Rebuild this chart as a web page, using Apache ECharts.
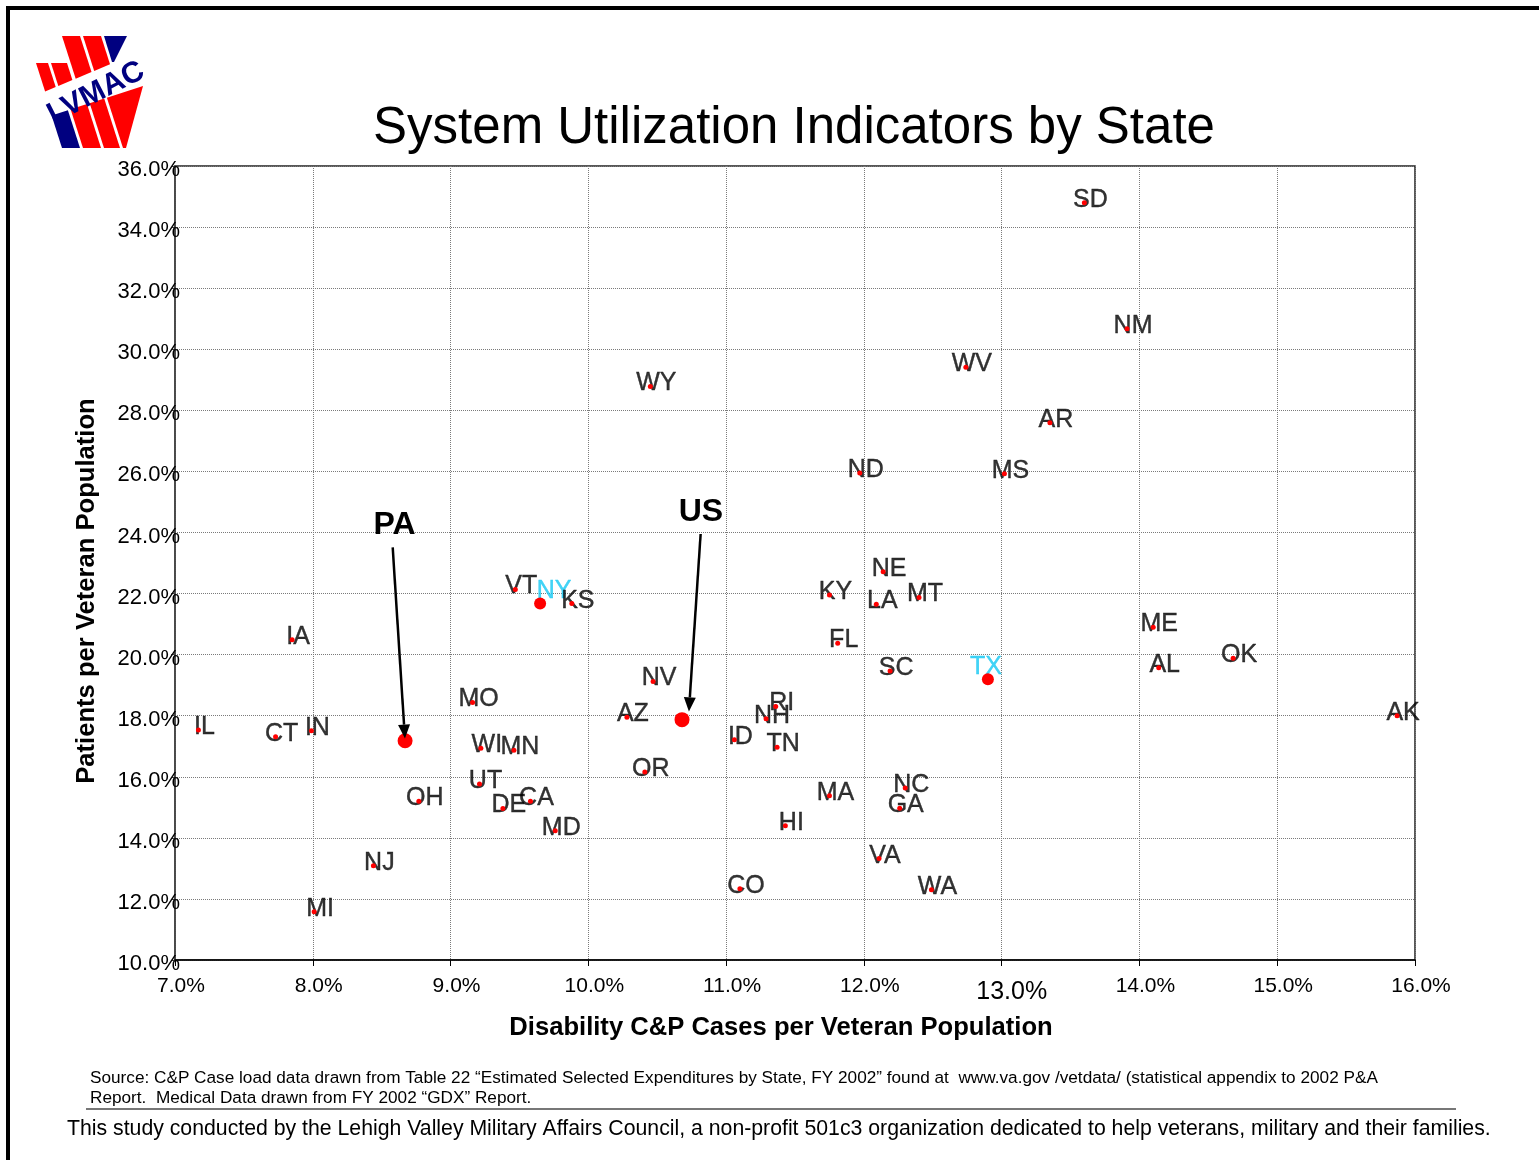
<!DOCTYPE html>
<html>
<head>
<meta charset="utf-8">
<script src="https://cdn.jsdelivr.net/npm/echarts@6/dist/echarts.min.js"></script>
<style>
  html, body { margin: 0; padding: 0; background: #fff; }
  #chart { width: 1539px; height: 1160px; }
</style>
</head>
<body>
<div id="chart"></div>
<script>
// State codes, disability C&P cases per veteran (%), VA patients per veteran (%)
const states = ['IL','CT','IN','IA','MI','NJ','PA','OH','MO','WI','MN','UT','DE','CA','MD','VT','NY','KS','WY','NV',
  'AZ','US','OR','ID','RI','NH','TN','HI','MA','KY','FL','CO','NE','LA','MT','SC','TX','NC','GA','VA',
  'WA','ND','MS','WV','AR','NM','SD','ME','AL','OK','AK'];
const casesPct = [7.17,7.73,7.99,7.85,8.01,8.44,8.67,8.77,9.16,9.22,9.46,9.21,9.38,9.58,9.76,9.47,9.65,9.88,10.45,10.47,
  10.28,10.68,10.41,11.06,11.36,11.29,11.37,11.43,11.75,11.75,11.81,11.10,12.14,12.09,12.40,12.19,12.90,12.30,12.26,12.11,
  12.49,11.97,13.02,12.74,13.35,13.91,13.60,14.10,14.14,14.68,15.87];
const patientsPct = [17.53,17.31,17.51,20.49,11.58,13.09,17.18,15.20,18.43,16.93,16.87,15.76,14.96,15.20,14.23,22.13,21.67,21.67,28.78,19.12,
  17.95,17.87,16.16,17.21,18.30,17.90,16.97,14.40,15.38,21.95,20.37,12.33,22.71,21.65,21.87,19.46,19.19,15.63,14.97,13.32,
  12.30,25.95,25.92,29.41,27.59,30.67,34.80,20.90,19.57,19.88,18.00];

// Axis ranges and tick steps
const xRange = [7, 16], xStep = 1;
const yRange = [10, 36], yStep = 2;

// Points called out with an arrow instead of a label at the marker
const calloutNames = ['PA', 'US'];
const calloutTail  = [[8.58, 23.51], [10.815, 23.95]];
const calloutTip   = [[8.669, 17.25], [10.73, 18.14]];
const calloutText  = [[8.594, 24.23], [10.817, 24.67]];

const FONT = '"Liberation Sans", Arial, Helvetica, sans-serif';

// label styling per state (cyan for the highlighted large states)
const labelColor = { NY: '#14c8f4', TX: '#14c8f4' };
const labelOffset = { NY: [14, -13], TX: [-2, -12] };
const markerSize = { PA: 15, US: 15, NY: 12, TX: 12 };

const labelData = [];
const dotData = [];
states.forEach((s, i) => {
  const v = [casesPct[i], patientsPct[i]];
  dotData.push({ name: s, value: v, symbolSize: markerSize[s] || 5 });
  if (calloutNames.indexOf(s) < 0) {
    const c = labelColor[s] || '#000';
    labelData.push({
      name: s, value: v,
      label: { offset: labelOffset[s] || [6, -3], color: c, textBorderColor: c }
    });
  }
});

const pct = v => v.toFixed(1) + '%';

// LVMAC keystone logo
const RED = '#ff0000', NAVY = '#000080';
const logoShapes = [
  [[36,63],[48,63],[55.7,87],[45.1,91.5]],
  [[51,63],[67,63],[72.4,80],[58.3,85.9]],
  [[62,36],[80,36],[91.5,72],[75.7,78.7]],
  [[83,36],[101,36],[110,64.2],[94.2,70.9]],
  [[70.6,109.3],[87,104.1],[101,148],[83,148]],
  [[89.7,103.3],[104.2,98.6],[120,148],[104,148]],
  [[106.9,97.7],[143,86],[126,148],[123,148]]
];
const logoBlue = [
  [[104,36],[127,36],[114,62],[112,62]],
  [[51.6,115.4],[67.9,110.2],[80,148],[62,148]]
];

const baseGraphic = [
  { type: 'rect', shape: { x: 8, y: 8, width: 1600, height: 1200 }, style: { fill: 'none', stroke: '#000', lineWidth: 4 }, silent: true },
  ...logoShapes.map(p => ({ type: 'polygon', shape: { points: p }, style: { fill: RED } })),
  ...logoBlue.map(p => ({ type: 'polygon', shape: { points: p }, style: { fill: NAVY } })),
  { type: 'text', x: 96, y: 93, rotation: 0.47,
    style: { text: 'LVMAC', font: 'bold 30px ' + FONT, fill: NAVY, align: 'center', verticalAlign: 'middle' } },
  { type: 'text', x: 794, y: 129,
    style: { text: 'System Utilization Indicators by State', font: '51px ' + FONT, fill: '#000', align: 'center', verticalAlign: 'middle' } },
  { type: 'text', x: 87, y: 591, rotation: Math.PI / 2,
    style: { text: 'Patients per Veteran Population', font: 'bold 25.6px ' + FONT, fill: '#000', align: 'center', verticalAlign: 'middle' } },
  { type: 'text', x: 781, y: 1028,
    style: { text: 'Disability C&P Cases per Veteran Population', font: 'bold 25.6px ' + FONT, fill: '#000', align: 'center', verticalAlign: 'middle' } },
  { type: 'text', x: 90, y: 1078,
    style: { text: 'Source: C&P Case load data drawn from Table 22 \u201cEstimated Selected Expenditures by State, FY 2002\u201d found at  www.va.gov /vetdata/ (statistical appendix to 2002 P&A',
      font: '17.2px ' + FONT, fill: '#000', align: 'left', verticalAlign: 'middle' } },
  { type: 'text', x: 90, y: 1098,
    style: { text: 'Report.  Medical Data drawn from FY 2002 \u201cGDX\u201d Report.',
      font: '17.2px ' + FONT, fill: '#000', align: 'left', verticalAlign: 'middle' } },
  { type: 'line', shape: { x1: 86, y1: 1109, x2: 1456, y2: 1109 }, style: { stroke: '#777', lineWidth: 2 } },
  { type: 'text', x: 67, y: 1129,
    style: { text: 'This study conducted by the Lehigh Valley Military Affairs Council, a non-profit 501c3 organization dedicated to help veterans, military and their families.',
      font: '21.25px ' + FONT, fill: '#000', align: 'left', verticalAlign: 'middle' } }
];

const gridLine = { show: true, lineStyle: { color: '#7a7a7a', width: 1, type: [1, 1] } };

const option = {
  animation: false,
  backgroundColor: '#fff',
  grid: { left: 175, right: 124, top: 166, bottom: 200, show: true, borderColor: '#222', borderWidth: 1.5, backgroundColor: 'transparent' },
  xAxis: {
    type: 'value', min: xRange[0], max: xRange[1], interval: xStep,
    axisLine: { show: true, lineStyle: { color: '#000', width: 1.5 } },
    axisTick: { show: true, length: 6, lineStyle: { color: '#000', width: 1 } },
    splitLine: gridLine,
    axisLabel: {
      margin: 16, color: '#000', fontSize: 21, fontFamily: FONT, padding: [0, 0, 0, 12],
      formatter: v => (Math.abs(v - 13) < 1e-9 ? '{big|' + pct(v) + '}' : pct(v)),
      rich: { big: { fontSize: 25, fontFamily: FONT, color: '#000', padding: [4, 0, 0, 8] } }
    }
  },
  yAxis: {
    type: 'value', min: yRange[0], max: yRange[1], interval: yStep,
    axisLine: { show: true, lineStyle: { color: '#444', width: 1.5 } },
    axisTick: { show: true, length: 4, lineStyle: { color: '#444', width: 1 } },
    splitLine: gridLine,
    axisLabel: {
      margin: -5, color: '#000', fontFamily: FONT,
      formatter: v => '{t|' + pct(v) + '}',
      rich: { t: { fontSize: 22, fontFamily: FONT, color: '#000', padding: [8, 0, 0, 0] } }
    }
  },
  graphic: baseGraphic,
  series: [
    {
      name: 'labels', type: 'scatter', z: 2, symbolSize: 1, silent: true,
      itemStyle: { color: 'rgba(0,0,0,0)' },
      label: { show: true, position: 'inside', formatter: '{b}', fontSize: 25, fontFamily: FONT, color: '#000',
        textBorderColor: '#000', textBorderWidth: 0.4 },
      data: labelData
    },
    {
      name: 'states', type: 'scatter', z: 3, silent: true,
      itemStyle: { color: '#ff0000', opacity: 1 },
      data: dotData
    }
  ]
};

const chart = echarts.init(document.getElementById('chart'), null, { renderer: 'canvas' });
chart.setOption(option);

// Callout arrows, placed through the chart's own coordinate conversion
const extra = [];
calloutNames.forEach((n, i) => {
  const tail = chart.convertToPixel({ gridIndex: 0 }, calloutTail[i]);
  const tip = chart.convertToPixel({ gridIndex: 0 }, calloutTip[i]);
  const txt = chart.convertToPixel({ gridIndex: 0 }, calloutText[i]);
  const dx = tip[0] - tail[0], dy = tip[1] - tail[1];
  const len = Math.hypot(dx, dy), ux = dx / len, uy = dy / len;
  const headL = 14, headW = 12;
  const base = [tip[0] - ux * headL, tip[1] - uy * headL];
  extra.push({ type: 'line', z: 20, shape: { x1: tail[0], y1: tail[1], x2: base[0], y2: base[1] }, style: { stroke: '#000', lineWidth: 2.5 } });
  extra.push({ type: 'polygon', z: 20, shape: { points: [tip,
    [base[0] - uy * headW / 2, base[1] + ux * headW / 2],
    [base[0] + uy * headW / 2, base[1] - ux * headW / 2]] }, style: { fill: '#000' } });
  extra.push({ type: 'text', z: 20, x: txt[0], y: txt[1],
    style: { text: n, font: 'bold 32px ' + FONT, fill: '#000', align: 'center', verticalAlign: 'middle' } });
});
chart.setOption({ graphic: baseGraphic.concat(extra) });
</script>
</body>
</html>
